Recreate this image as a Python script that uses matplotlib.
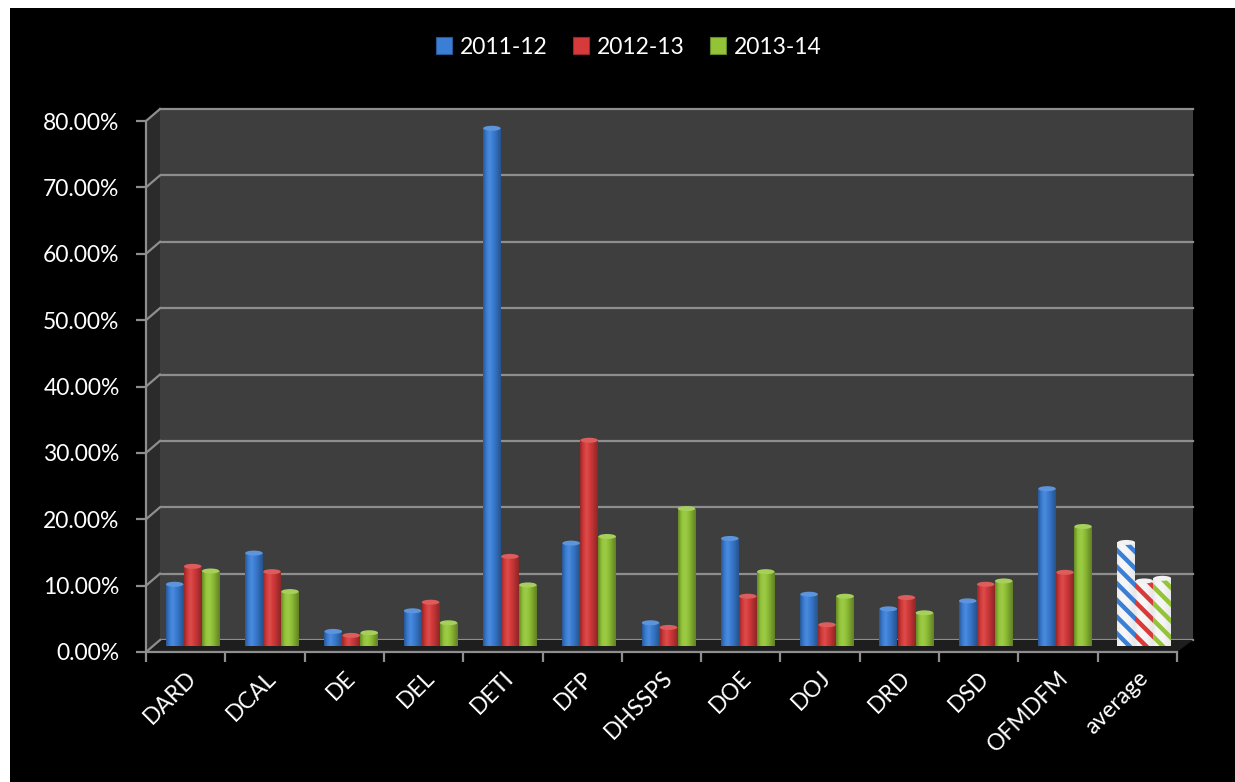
import matplotlib
matplotlib.use("Agg")
import matplotlib.pyplot as plt
import numpy as np
from matplotlib.patches import Polygon, Rectangle, Ellipse, Patch
from matplotlib.lines import Line2D

plt.rcParams["font.family"] = ["Lato", "DejaVu Sans"]
plt.rcParams["hatch.linewidth"] = 3.2

# Data
departments = ["DARD", "DCAL", "DE", "DEL", "DETI", "DFP", "DHSSPS", "DOE",
               "DOJ", "DRD", "DSD", "OFMDFM", "average"]
years = ["2011-12", "2012-13", "2013-14"]
vals_1112 = [9.3, 14.0, 2.2, 5.3, 78.0, 15.5, 3.5, 16.2, 7.8, 5.6, 6.8, 23.7, 15.6]
vals_1213 = [12.0, 11.2, 1.6, 6.6, 13.5, 31.0, 2.8, 7.5, 3.2, 7.3, 9.3, 11.1, 9.8]
vals_1314 = [11.3, 8.2, 2.0, 3.5, 9.2, 16.5, 20.7, 11.2, 7.5, 5.0, 9.8, 18.0, 10.2]
yticks = [0, 10, 20, 30, 40, 50, 60, 70, 80]

# Palette
COLORS = ["#3a7ed6", "#d63a3a", "#93c437"]
BACK_WALL = "#3e3e3e"
SIDE_WALL = "#2b2b2b"
FLOOR = "#1e1e1e"
GRID = "#8e8e8e"

W, H = 1235, 782
fig = plt.figure(figsize=(W / 100, H / 100), dpi=100, facecolor="white")


def fx(px):
    return px / W


def fy(py):
    return 1 - py / H


def ax_rect(left, top, right, bottom):
    return [fx(left), fy(bottom), (right - left) / W, (bottom - top) / H]


# black panel
fig.patches.append(Rectangle((fx(10), 0), 1 - fx(10), fy(8), transform=fig.transFigure,
                             facecolor="black", edgecolor="none", zorder=0))

# front plane geometry (pixels)
FL, FT, FR, FB = 146, 121, 1177, 652
DX, DY = 14, 12
PX_PER_UNIT = (FB - FT) / 80.0

# left wall and floor
fig.patches.append(Polygon([(fx(FL), fy(FT)), (fx(FL + DX), fy(FT - DY)),
                            (fx(FL + DX), fy(FB - DY)), (fx(FL), fy(FB))],
                           closed=True, transform=fig.transFigure,
                           facecolor=SIDE_WALL, edgecolor="none", zorder=1))
fig.patches.append(Polygon([(fx(FL), fy(FB)), (fx(FR), fy(FB)),
                            (fx(FR + DX + 2), fy(FB - DY)), (fx(FL + DX), fy(FB - DY))],
                           closed=True, transform=fig.transFigure,
                           facecolor=FLOOR, edgecolor="none", zorder=1))
for v in yticks:
    yf = FB - v * PX_PER_UNIT
    fig.lines.append(Line2D([fx(FL), fx(FL + DX)], [fy(yf), fy(yf - DY)],
                            transform=fig.transFigure, color=GRID, lw=1.6, zorder=2))

# back wall
ax_back = fig.add_axes(ax_rect(FL + DX, FT - DY, FR + DX + 2, FB - DY))
ax_back.set_facecolor(BACK_WALL)
ax_back.set_xlim(0, 13)
ax_back.set_ylim(0, 80)
ax_back.set_yticks(yticks)
ax_back.set_xticks([])
ax_back.tick_params(length=0, labelleft=False)
ax_back.grid(axis="y", color=GRID, lw=1.6)
for gl in ax_back.get_ygridlines():
    gl.set_clip_on(False)
for s in ax_back.spines.values():
    s.set_visible(False)
ax_back.set_zorder(1)

# bar plane (middle depth)
ax = fig.add_axes(ax_rect(FL + DX / 2, FT - DY / 2, FR + DX / 2, FB - DY / 2))
ax.patch.set_visible(False)
ax.set_zorder(3)
ax.axis("off")

x = np.arange(len(departments)) + 0.5
width = 0.225
series = [vals_1112, vals_1213, vals_1314]
cap_h = 5.0 / PX_PER_UNIT


def shade(color, f):
    c = np.array(matplotlib.colors.to_rgb(color))
    if f >= 1:
        return c + (1 - c) * (f - 1)
    return c * f


profile_pos = [0.0, 0.2, 0.38, 0.65, 1.0]
profile_val = [0.7, 1.0, 1.1, 0.93, 0.66]
cols = np.linspace(0, 1, 40)
fvals = np.interp(cols, profile_pos, profile_val)

for k, (vals, color) in enumerate(zip(series, COLORS)):
    pos = x + (k - 1) * 0.227
    n = len(vals)
    face = [color] * (n - 1) + ["none"]
    bars = ax.bar(pos, vals, width, color=face, edgecolor="none", lw=0, zorder=4)
    for i, (b, v) in enumerate(zip(bars, vals)):
        avg = i == n - 1
        if avg:
            grad = np.array([shade("#f6f6f6", 0.82 + 0.18 * min(f, 1.0)) for f in fvals])
        else:
            grad = np.array([shade(color, f) for f in fvals])
        im = ax.imshow(grad[np.newaxis, :, :], extent=[b.get_x(), b.get_x() + width, 0, v],
                       aspect="auto", interpolation="bicubic", zorder=4)
        im.set_clip_path(b)
        if avg:
            b.set_hatch("\\\\")
            b.set_edgecolor(color)
            b.set_linewidth(0)
            b.set_zorder(5)
        cap_col = shade("#f2f2f2", 1.0) if avg else shade(color, 1.18)
        cap = Ellipse((b.get_x() + width / 2, v), width * 0.98, cap_h,
                      facecolor=cap_col, edgecolor="none", zorder=6)
        ax.add_patch(cap)
ax.set_xlim(0, 13)
ax.set_ylim(0, 80)

# front axis with ticks and labels
ax_f = fig.add_axes(ax_rect(FL, FT, FR, FB))
ax_f.patch.set_visible(False)
ax_f.set_zorder(2)
ax_f.set_xlim(0, 13)
ax_f.set_ylim(0, 80)
for side in ["top", "right"]:
    ax_f.spines[side].set_visible(False)
for side in ["left", "bottom"]:
    ax_f.spines[side].set_color(GRID)
    ax_f.spines[side].set_linewidth(1.6)
ax_f.set_yticks(yticks)
ax_f.set_yticklabels([f"{v:.2f}%" for v in yticks])
ax_f.tick_params(axis="y", direction="out", length=7, width=1.6, color=GRID,
                 labelcolor="white", labelsize=16.5, pad=12)
ax_f.set_xticks(np.arange(14), minor=True)
ax_f.set_xticks(x)
ax_f.set_xticklabels(departments)
ax_f.tick_params(axis="x", which="minor", direction="out", length=7, width=1.6, color=GRID)
ax_f.tick_params(axis="x", which="major", length=0, labelcolor="white", labelsize=16.5, pad=11)
plt.setp(ax_f.get_xticklabels(), rotation=45, ha="right", rotation_mode="anchor")

# legend
handles = [Patch(facecolor=c, edgecolor=shade(c, 0.7), lw=0.8) for c in COLORS]
fig.legend(handles, years, loc="center", bbox_to_anchor=(fx(629), fy(47)), ncol=3,
           frameon=False, fontsize=16.5, labelcolor="white", handlelength=0.7,
           handleheight=0.7, handletextpad=0.35, columnspacing=1.1)

fig.savefig("out.png", dpi=100, facecolor=fig.get_facecolor())
